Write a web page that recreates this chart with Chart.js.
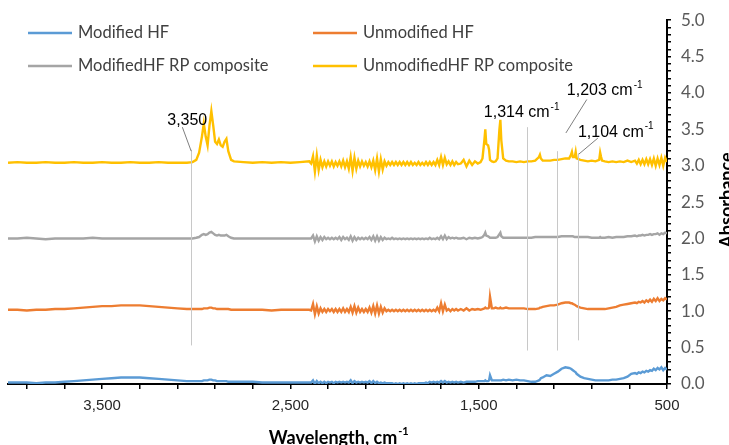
<!DOCTYPE html>
<html>
<head>
<meta charset="utf-8">
<script src="https://cdn.jsdelivr.net/npm/chart.js@4.4.1/dist/chart.umd.min.js"></script>
<style>
    html, body { margin: 0; padding: 0; background: #ffffff; }
    #wrap { width: 729px; height: 445px; position: relative; }
</style>
</head>
<body>
<div id="wrap"><canvas id="ftir_chart" width="729" height="445"></canvas></div>
<script>
// wavenumber grid, cm-1 (read left to right on the reversed axis)
var waveNumbers = [
    4000,3950,3900,3850,3800, 3750,3700,3650,3600,3550, 3500,3450,3400,3350,3300, 3250,3200,3150,3100,
    3050,3020,3000,2985,2970, 2960,2950,2940,2930,2920, 2910,2900,2890,2880,2870, 2860,2850,2840,2830,2815, 2800,
    2750,2700,2650,2600,2550, 2500,2450,2400,
    2390,2380,2370,2360,2350,2340,2330,2320,2310,2300,
    2290,2280,2270,2260,2250,2240,2230,2220,2210,2200,
    2190,2180,2170,2160,2150,2140,2130,2120,2110,2100,
    2090,2080,2070,2060,2050,2040,2030,2020,2010,2000,
    1990,1980,1970,1960,1950,1940,1930,1920,1910,1900,
    1890,1880,1870,1860,1850,1840,1830,1820,1810,1800,
    1790,1780,1770,1760,1750,1740,1730,1720,1710,1700,
    1690,1680,1670,1660,1650,1640,1630,1620,1610,
    1595,1580,1565,1550,1535, 1520,1505,1490,1480,1470, 1465,1460,1450,1445,1440, 1430,1420,1410,1400,1390,
    1385,1380,1370,1355,1340,
    1320,1300,1280,1260,1240, 1220,1200,1180,1175,1170, 1160,1140,1120,1100,1080, 1060,1040,1020,1010,1005,
    1000,990,985,980,960, 940,920,900,880,860, 855,850,845,830,810, 790,770,750,730,710,
    690,670,660,650,640, 630,620,610,600,590, 580,570,560,550,540, 530,520,510,500
];

var modifiedHF = [
    0.02,0.02,0.02,0.01,0.02, 0.02,0.03,0.04,0.05,0.06, 0.07,0.08,0.09,0.09,0.09, 0.08,0.07,0.06,0.05,
    0.04,0.04,0.04,0.04,0.04, 0.05,0.05,0.05,0.06,0.06, 0.05,0.05,0.04,0.04,0.04, 0.04,0.04,0.04,0.03,0.03, 0.03,
    0.03,0.03,0.02,0.02,0.02, 0.02,0.02,0.02,
    0.02,0.05,0.00,0.04,0.01,0.03,0.01,0.03,0.01,0.03,
    0.02,0.03,0.01,0.03,0.02,0.03,0.02,0.03,0.02,0.03,
    0.02,0.05,0.01,0.04,0.02,0.03,0.02,0.03,0.02,0.03,
    0.02,0.04,0.01,0.04,0.01,0.03,0.01,0.02,0.01,0.02,
    0.01,0.01,0.01,0.01,0.00,0.01,0.00,0.01,0.00,0.01,
    0.00,0.01,0.00,0.01,0.00,0.01,0.00,0.01,0.01,0.01,
    0.01,0.02,0.01,0.03,0.02,0.03,0.02,0.03,0.02,0.04,
    0.02,0.04,0.02,0.03,0.02,0.03,0.02,0.03,0.02,
    0.03,0.02,0.03,0.03,0.03, 0.03,0.04,0.04,0.04,0.04, 0.05,0.04,0.04,0.05,0.12, 0.05,0.05,0.05,0.05,0.05,
    0.05,0.05,0.06,0.05,0.06,
    0.05,0.06,0.05,0.05,0.04, 0.03,0.03,0.05,0.06,0.08, 0.09,0.12,0.11,0.14,0.17, 0.21,0.23,0.22,0.21,0.20,
    0.19,0.17,0.16,0.14,0.10, 0.08,0.07,0.06,0.05,0.05, 0.05,0.05,0.05,0.05,0.05, 0.06,0.06,0.07,0.08,0.10,
    0.14,0.15,0.14,0.16,0.15, 0.17,0.16,0.18,0.17,0.19, 0.18,0.21,0.19,0.22,0.20, 0.23,0.19,0.22,0.20
];

var unmodifiedHF = [
    1.02,1.02,1.01,1.02,1.02, 1.03,1.03,1.04,1.05,1.06, 1.07,1.07,1.08,1.08,1.08, 1.07,1.06,1.05,1.04,
    1.03,1.03,1.03,1.03,1.03, 1.04,1.04,1.04,1.05,1.05, 1.04,1.04,1.03,1.03,1.03, 1.03,1.03,1.03,1.03,1.02, 1.02,
    1.02,1.02,1.02,1.01,1.02, 1.02,1.02,1.02,
    1.01,1.10,0.96,1.07,0.97,1.04,0.99,1.03,0.99,1.03,
    1.00,1.03,0.99,1.03,0.99,1.03,0.99,1.04,0.99,1.03,
    0.99,1.06,0.98,1.07,0.98,1.05,0.99,1.03,0.99,1.03,
    0.99,1.05,0.98,1.07,0.97,1.08,0.97,1.06,0.98,1.04,
    1.00,1.02,1.00,1.02,1.00,1.02,1.00,1.02,1.00,1.02,
    1.00,1.02,1.00,1.02,1.00,1.02,1.00,1.02,1.00,1.02,
    1.00,1.02,1.00,1.02,1.00,1.02,1.00,1.05,1.00,1.11,
    1.00,1.09,1.01,1.03,1.00,1.03,1.01,1.03,1.01,
    1.03,1.01,1.04,1.01,1.03, 1.02,1.03,1.02,1.03,1.04, 1.05,1.04,1.04,1.05,1.20, 1.04,1.04,1.05,1.04,1.04,
    1.05,1.04,1.04,1.05,1.04,
    1.04,1.04,1.04,1.04,1.03, 1.03,1.03,1.04,1.05,1.05, 1.06,1.07,1.08,1.08,1.09, 1.11,1.12,1.12,1.11,1.11,
    1.10,1.09,1.08,1.07,1.05, 1.04,1.03,1.03,1.03,1.03, 1.03,1.03,1.03,1.03,1.04, 1.05,1.06,1.08,1.09,1.10,
    1.11,1.12,1.11,1.13,1.12, 1.14,1.12,1.15,1.13,1.16, 1.13,1.17,1.14,1.18,1.14, 1.17,1.15,1.18,1.16
];

var modifiedComposite = [
    2.00,2.00,2.01,2.00,1.99, 2.00,2.00,2.00,2.00,2.01, 2.00,2.00,2.00,2.00,2.00, 2.00,2.00,2.00,2.00,
    2.00,2.00,2.01,2.02,2.05, 2.06,2.05,2.06,2.08,2.09, 2.07,2.05,2.04,2.05,2.04, 2.04,2.04,2.05,2.03,2.01, 2.00,
    2.00,2.00,2.00,2.00,2.00, 2.00,2.00,2.00,
    2.00,2.04,1.96,2.03,1.97,2.02,1.98,2.02,1.99,2.01,
    1.99,2.01,1.99,2.01,1.99,2.02,1.98,2.02,1.99,2.01,
    1.98,2.03,1.97,2.02,1.98,2.01,1.99,2.01,1.99,2.01,
    1.99,2.02,1.98,2.03,1.97,2.03,1.97,2.02,1.98,2.01,
    1.99,2.00,1.99,2.01,1.99,2.00,1.99,2.00,1.99,2.00,
    1.99,2.00,1.99,2.00,1.99,2.00,1.99,2.00,1.99,2.00,
    1.99,2.00,1.99,2.01,1.99,2.00,1.99,2.01,1.99,2.03,
    1.99,2.04,1.99,2.02,2.00,2.01,2.00,2.01,2.00,
    2.00,2.01,1.99,2.01,2.00, 2.01,2.00,2.01,2.02,2.05, 2.08,2.04,2.03,2.02,2.01, 2.01,2.01,2.01,2.02,2.06,
    2.08,2.03,2.01,2.01,2.01,
    2.01,2.01,2.01,2.01,2.01, 2.01,2.02,2.02,2.02,2.02, 2.02,2.02,2.02,2.02,2.02, 2.03,2.03,2.03,2.03,2.03,
    2.03,2.02,2.02,2.02,2.02, 2.02,2.02,2.01,2.01,2.01, 2.02,2.01,2.01,2.01,2.02, 2.01,2.02,2.02,2.02,2.03,
    2.03,2.04,2.03,2.04,2.04, 2.05,2.04,2.05,2.05,2.06, 2.05,2.06,2.06,2.07,2.05, 2.07,2.06,2.08,2.07
];

var unmodifiedComposite = [
    3.04,3.05,3.04,3.04,3.05, 3.04,3.04,3.05,3.04,3.04, 3.05,3.04,3.04,3.05,3.04, 3.04,3.05,3.04,3.04,
    3.04,3.05,3.08,3.18,3.40, 3.58,3.40,3.28,3.55,3.75, 3.55,3.33,3.30,3.36,3.28, 3.26,3.33,3.37,3.20,3.08, 3.06,
    3.05,3.04,3.05,3.04,3.05, 3.04,3.05,3.06,
    3.03,3.13,2.92,3.14,2.94,3.08,2.98,3.06,2.99,3.06,
    3.00,3.06,2.99,3.05,3.00,3.06,2.99,3.07,2.98,3.06,
    2.96,3.12,2.93,3.11,2.96,3.07,2.99,3.06,3.00,3.05,
    2.99,3.06,2.98,3.07,2.94,3.10,2.92,3.09,2.95,3.06,
    3.00,3.05,3.01,3.05,3.01,3.05,3.01,3.05,3.01,3.05,
    3.01,3.05,3.01,3.05,3.01,3.04,3.01,3.05,3.01,3.04,
    3.01,3.05,3.01,3.05,3.01,3.05,3.01,3.08,3.01,3.12,
    3.01,3.11,3.02,3.06,3.01,3.06,3.01,3.05,3.02,
    3.03,3.08,2.99,3.07,3.01, 3.06,3.03,3.05,3.10,3.35, 3.50,3.30,3.28,3.22,3.08, 3.06,3.05,3.06,3.10,3.50,
    3.63,3.35,3.10,3.07,3.06,
    3.06,3.05,3.06,3.05,3.06, 3.06,3.07,3.12,3.15,3.10, 3.07,3.07,3.07,3.08,3.08, 3.09,3.10,3.10,3.15,3.19,
    3.12,3.12,3.19,3.10,3.08, 3.07,3.06,3.07,3.06,3.08, 3.18,3.12,3.07,3.06,3.05, 3.06,3.05,3.06,3.05,3.07,
    3.05,3.07,3.03,3.08,3.02, 3.08,3.02,3.09,3.02,3.09, 3.01,3.10,3.00,3.10,3.01, 3.11,3.00,3.11,3.05
];

var seriesNames = ["Modified HF", "Unmodified HF", "ModifiedHF RP composite", "UnmodifiedHF RP composite"];
var seriesColors = ["#5b9bd5", "#ed7d31", "#a5a5a5", "#ffc000"];

// axis ticks: minor marks every 200 cm-1, labels every 1000
var xTickValues = [500,700,900,1100,1300,1500,1700,1900,2100,2300,2500,2700,2900,3100,3300,3500,3700,3900];
var xLabelValues = [500,1500,2500,3500];

// peak markers: label text, marker wavenumber
var peakLabels = ["3,350", "1,314", "1,203", "1,104"];
var peakWaves = [3027, 1245, 1085, 973];

function toPoints(values) {
    var pts = [];
    for (var i = 0; i < waveNumbers.length; i++) {
        pts.push({x: waveNumbers[i], y: values[i]});
    }
    return pts;
}

// text with a small raised "-1"
function drawWithSup(ctx, text, sup, x, y, size) {
    ctx.font = size + "px 'Liberation Sans', Arial, sans-serif";
    ctx.textAlign = "left";
    ctx.textBaseline = "middle";
    ctx.fillText(text, x, y);
    var w = ctx.measureText(text).width;
    ctx.font = Math.round(size * 0.62) + "px 'Liberation Sans', Arial, sans-serif";
    ctx.fillText(sup, x + w + 1, y - size * 0.35);
}

var peakPlugin = {
    id: "peakMarks",
    afterDatasetsDraw: function (chart) {
        var ctx = chart.ctx;
        var xs = chart.scales.x;
        var ys = chart.scales.y;
        ctx.save();

        // vertical marker lines [wave, yTop, yBottom]
        var vlines = [
            [peakWaves[0], 3.22, 0.53],
            [peakWaves[1], 3.53, 0.46],
            [peakWaves[2], 3.20, 0.46],
            [peakWaves[3], 3.17, 0.60]
        ];
        ctx.strokeStyle = "#c8c8c8";
        ctx.lineWidth = 1;
        vlines.forEach(function (v) {
            var px = Math.round(xs.getPixelForValue(v[0])) + 0.5;
            ctx.beginPath();
            ctx.moveTo(px, ys.getPixelForValue(v[1]));
            ctx.lineTo(px, ys.getPixelForValue(v[2]));
            ctx.stroke();
        });

        // leader lines
        var leaders = [
            [3074, 3.53, peakWaves[0], 3.20],
            [1037, 3.45, 926, 3.91],
            [968, 3.16, 867, 3.38]
        ];
        ctx.strokeStyle = "#7f7f7f";
        leaders.forEach(function (l) {
            ctx.beginPath();
            ctx.moveTo(xs.getPixelForValue(l[0]), ys.getPixelForValue(l[1]));
            ctx.lineTo(xs.getPixelForValue(l[2]), ys.getPixelForValue(l[3]));
            ctx.stroke();
        });

        ctx.fillStyle = "#000000";
        ctx.font = "16px 'Liberation Sans', Arial, sans-serif";
        ctx.textAlign = "center";
        ctx.textBaseline = "middle";
        ctx.fillText(peakLabels[0], xs.getPixelForValue(3048), ys.getPixelForValue(3.62));
        drawWithSup(ctx, peakLabels[1] + " cm", "-1", xs.getPixelForValue(1473), ys.getPixelForValue(3.73), 16);
        drawWithSup(ctx, peakLabels[2] + " cm", "-1", xs.getPixelForValue(1032), ys.getPixelForValue(4.03), 16);
        drawWithSup(ctx, peakLabels[3] + " cm", "-1", xs.getPixelForValue(973), ys.getPixelForValue(3.46), 16);
        ctx.restore();
    },
    afterDraw: function (chart) {
        var ctx = chart.ctx;
        ctx.save();

        //legend, two columns
        var spots = [[28, 33], [313, 33], [28, 66], [313, 66]];
        for (var i = 0; i < spots.length; i++) {
            var lx = spots[i][0], ly = spots[i][1];
            ctx.strokeStyle = seriesColors[i];
            ctx.lineWidth = 2.5;
            ctx.beginPath();
            ctx.moveTo(lx, ly);
            ctx.lineTo(lx + 44, ly);
            ctx.stroke();
            ctx.fillStyle = "#404040";
            ctx.font = "16.5px Lato, 'Noto Sans', sans-serif";
            ctx.textAlign = "left";
            ctx.textBaseline = "middle";
            ctx.fillText(seriesNames[i], lx + 50, ly);
        }

        //axis titles
        ctx.fillStyle = "#000000";
        ctx.font = "bold 18px Lato, 'Noto Sans', sans-serif";
        ctx.textBaseline = "middle";
        var t = "Wavelength, cm";
        var tw = ctx.measureText(t).width;
        var tx = 338 - (tw + 10) / 2;
        ctx.textAlign = "left";
        ctx.fillText(t, tx, 438);
        ctx.font = "bold 11px Lato, 'Noto Sans', sans-serif";
        ctx.fillText("-1", tx + tw + 1, 431);

        ctx.translate(727, 200);
        ctx.rotate(-Math.PI / 2);
        ctx.font = "bold 18px Lato, 'Noto Sans', sans-serif";
        ctx.textAlign = "center";
        ctx.fillText("Absorbance", 0, 0);
        ctx.restore();
    }
};

var canvas = document.getElementById("ftir_chart");

var datasets = [
    {label: seriesNames[0], data: toPoints(modifiedHF)},
    {label: seriesNames[1], data: toPoints(unmodifiedHF)},
    {label: seriesNames[2], data: toPoints(modifiedComposite)},
    {label: seriesNames[3], data: toPoints(unmodifiedComposite)}
];
datasets.forEach(function (d, i) {
    d.borderColor = seriesColors[i];
    d.backgroundColor = seriesColors[i];
    d.borderWidth = 2.4;
    d.pointRadius = 0;
    d.tension = 0;
    d.fill = false;
    d.order = 4 - i;
});

var chart = new Chart(canvas, {
    type: "line",
    data: {datasets: datasets},
    options: {
        responsive: false,
        animation: false,
        events: [],
        layout: {
            padding: {left: 8, top: 17, right: 0, bottom: 0}
        },
        plugins: {
            legend: {display: false},
            tooltip: {enabled: false}
        },
        scales: {
            x: {
                type: "linear",
                reverse: true,
                min: 500,
                max: 4000,
                afterBuildTicks: function (scale) {
                    scale.ticks = xTickValues.map(function (v) { return {value: v}; });
                },
                afterFit: function (scale) { scale.height = 61; },
                grid: {drawOnChartArea: false, drawTicks: true, tickLength: 5, color: "#000000", lineWidth: 1.5},
                border: {display: true, color: "#000000", width: 2},
                ticks: {
                    autoSkip: false,
                    maxRotation: 0,
                    padding: 8,
                    color: "#262626",
                    font: {family: "'Liberation Sans', Arial, sans-serif", size: 15},
                    callback: function (v) {
                        return xLabelValues.indexOf(v) > -1 ? v.toLocaleString("en-US") : "";
                    }
                }
            },
            y: {
                type: "linear",
                position: "right",
                min: 0,
                max: 5,
                afterFit: function (scale) { scale.width = 62; },
                grid: {drawOnChartArea: false, drawTicks: true, tickLength: 4, color: "#000000", lineWidth: 1.5},
                border: {display: true, color: "#000000", width: 2},
                ticks: {
                    stepSize: 0.1,
                    autoSkip: false,
                    padding: 10,
                    color: "#595959",
                    font: {family: "Lato, 'Noto Sans', sans-serif", size: 17},
                    callback: function (v) {
                        var h = v * 2;
                        return Math.abs(h - Math.round(h)) < 1e-6 ? v.toFixed(1) : "";
                    }
                }
            }
        }
    },
    plugins: [peakPlugin]
});
</script>
</body>
</html>
